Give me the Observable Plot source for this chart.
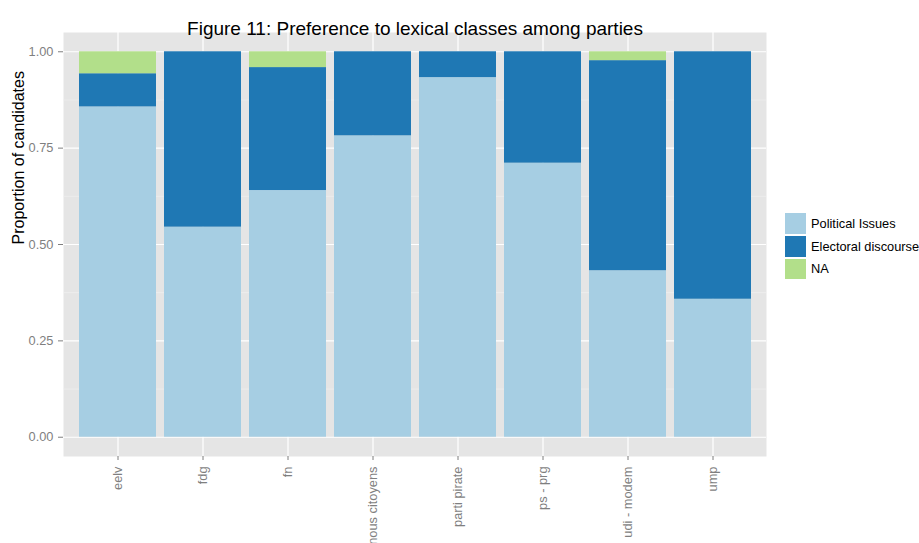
<!DOCTYPE html>
<html>
<head>
<meta charset="utf-8">
<script src="https://cdn.jsdelivr.net/npm/d3@7"></script>
<script src="https://cdn.jsdelivr.net/npm/@observablehq/plot@0.6"></script>
<style>
  html, body { margin: 0; padding: 0; background: #fff; }
  #wrap { position: relative; width: 919px; height: 543px; overflow: hidden; font-family: "Liberation Sans", Arial, Helvetica, sans-serif; }
  #legend { position: absolute; left: 784px; top: 212px; }
  .row { display: flex; align-items: center; height: 22.8px; white-space: nowrap; }
  .sw { flex: none; width: 23px; height: 22.8px; box-sizing: border-box; border: 0.5px solid #fff; }
  .lab { margin-left: 4px; font-size: 12.8px; color: #000; white-space: nowrap; }
</style>
</head>
<body>
<div id="wrap"></div>
<script>
const title = "Figure 11: Preference to lexical classes among parties";
const yLabel = "Proportion of candidates";
const parties = ["eelv", "fdg", "fn", "nous citoyens", "parti pirate", "ps - prg", "udi - modem", "ump"];
const classes = ["Political Issues", "Electoral discourse", "NA"];
const political = [0.857, 0.545, 0.640, 0.782, 0.933, 0.711, 0.432, 0.358];
const electoral = [0.086, 0.455, 0.319, 0.218, 0.067, 0.289, 0.545, 0.642];
const naShare   = [0.057, 0.000, 0.041, 0.000, 0.000, 0.000, 0.023, 0.000];
const colors = ["#A6CEE3", "#1F78B4", "#B2DF8A"];
const yTicks = [0, 0.25, 0.5, 0.75, 1];
const yMinor = [0.125, 0.375, 0.625, 0.875];

const series = [political, electoral, naShare];
const data = [];
classes.forEach((c, ci) => parties.forEach((p, pi) => data.push({party: p, cls: c, value: series[ci][pi]})));

const chart = Plot.plot({
  width: 919,
  height: 543,
  marginLeft: 63,
  marginRight: 153,
  marginTop: 32,
  marginBottom: 87,
  style: {fontFamily: "'Liberation Sans', Arial, Helvetica, sans-serif", background: "transparent", overflow: "hidden"},
  x: {domain: parties, paddingInner: 0.1, paddingOuter: 0.15, label: null},
  y: {domain: [-0.05, 1.05], label: null},
  color: {domain: classes, range: colors},
  marks: [
    Plot.frame({fill: "#E5E5E5", stroke: null}),
    Plot.ruleY(yMinor, {stroke: "#F2F2F2", strokeWidth: 0.6}),
    Plot.ruleY(yTicks, {stroke: "#FFFFFF", strokeWidth: 1.2}),
    Plot.ruleX(parties, {stroke: "#FFFFFF", strokeWidth: 1.2}),
    Plot.barY(data, {x: "party", y: "value", fill: "cls"}),
    Plot.axisY(yTicks, {tickFormat: d3.format(".2f"), tickSize: 5, tickPadding: 5, fontSize: 12.8, color: "#7F7F7F", stroke: "#7F7F7F", label: null}),
    Plot.axisX({tickRotate: -90, tickSize: 4, tickPadding: 6, fontSize: 12.8, color: "#7F7F7F", stroke: "#7F7F7F", label: null}),
    Plot.text([yLabel], {text: d => d, frameAnchor: "left", rotate: -90, dx: -45, fontSize: 16, fill: "#000"}),
    Plot.text([title], {text: d => d, frameAnchor: "top", dy: -11, fontSize: 19, fill: "#000"})
  ]
});
const wrap = document.getElementById("wrap");
wrap.appendChild(chart);

const legend = document.createElement("div");
legend.id = "legend";
classes.forEach((c, i) => {
  const row = document.createElement("div");
  row.className = "row";
  const sw = document.createElement("div");
  sw.className = "sw";
  sw.style.background = colors[i];
  const lab = document.createElement("span");
  lab.className = "lab";
  lab.textContent = c;
  row.appendChild(sw);
  row.appendChild(lab);
  legend.appendChild(row);
});
wrap.appendChild(legend);
</script>
</body>
</html>
